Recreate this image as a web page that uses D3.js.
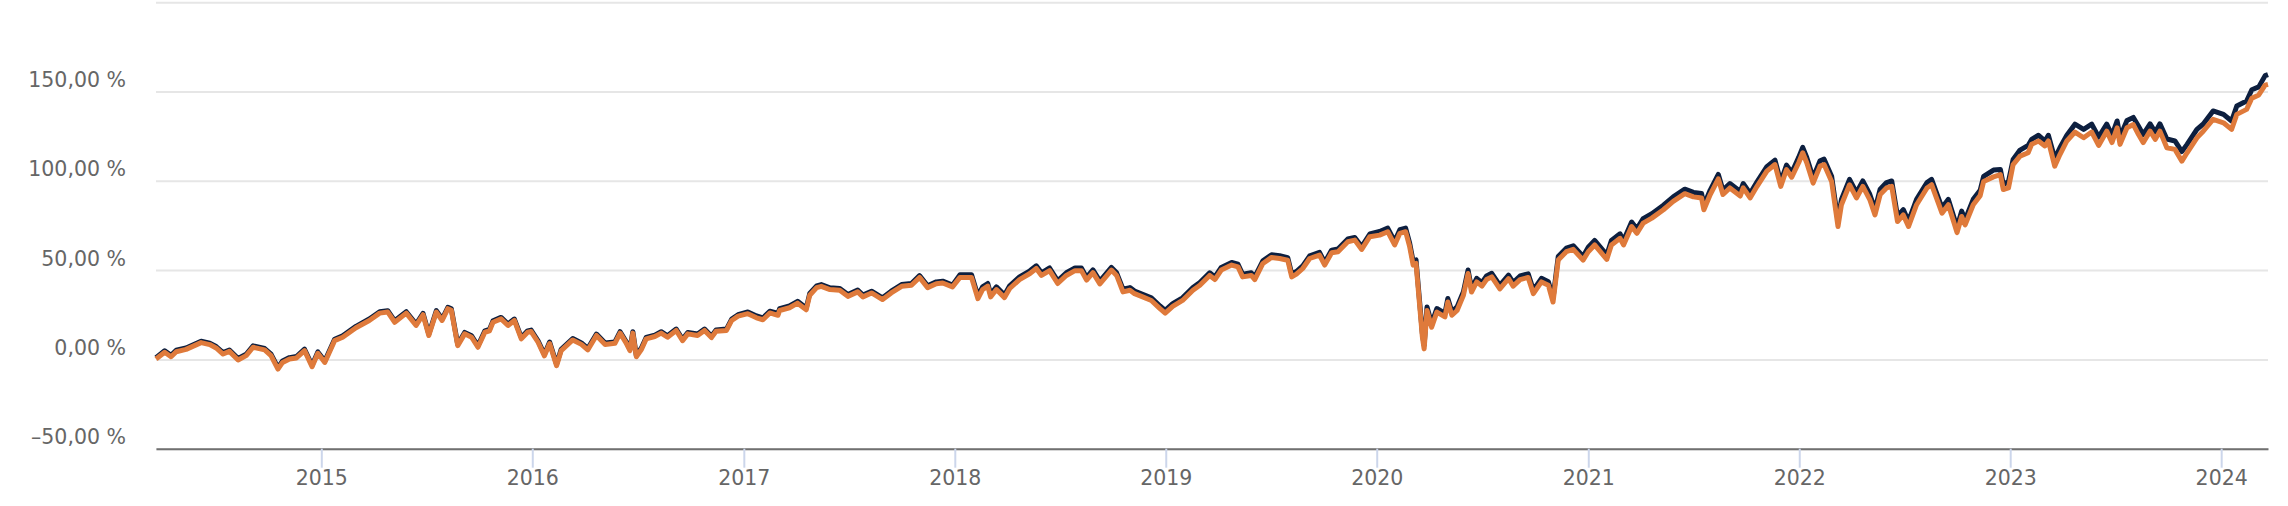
<!DOCTYPE html>
<html>
<head>
<meta charset="utf-8">
<script src="https://cdn.jsdelivr.net/npm/d3@7"></script>
<style>
body { margin: 0; background: #fff; }
svg { display: block; }
</style>
</head>
<body>
<script>
// dates (roughly every 2 weeks, more around the swings)
var dates = [
  "2014-03-21","2014-04-05","2014-04-16","2014-04-25","2014-05-12","2014-06-07","2014-06-22","2014-07-03","2014-07-15","2014-07-26","2014-08-10","2014-08-24","2014-09-05","2014-09-25","2014-10-06","2014-10-18","2014-10-26","2014-11-07","2014-11-19","2014-12-03","2014-12-16","2014-12-26",
  "2015-01-07","2015-01-24","2015-02-07","2015-03-02","2015-03-25","2015-04-12","2015-04-26","2015-05-08","2015-05-28","2015-06-14","2015-06-26","2015-07-06","2015-07-19","2015-07-29","2015-08-08","2015-08-14","2015-08-25","2015-09-06","2015-09-18","2015-09-29","2015-10-11","2015-10-19","2015-10-25","2015-11-08","2015-11-20","2015-12-01","2015-12-13","2015-12-24",
  "2015-12-30","2016-01-11","2016-01-22","2016-01-31","2016-02-12","2016-02-20","2016-03-11","2016-03-26","2016-04-06","2016-04-21","2016-05-06","2016-05-23","2016-06-01","2016-06-11","2016-06-18","2016-06-23","2016-06-29","2016-07-08","2016-07-16","2016-07-31","2016-08-11","2016-08-22","2016-09-06","2016-09-17","2016-09-26","2016-10-13","2016-10-25","2016-11-06","2016-11-14","2016-12-02","2016-12-11","2016-12-22",
  "2017-01-08","2017-01-23","2017-02-03","2017-02-15","2017-03-01","2017-03-04","2017-03-21","2017-04-04","2017-04-19","2017-04-25","2017-05-07","2017-05-15","2017-05-30","2017-06-16","2017-06-30","2017-07-17","2017-07-26","2017-08-10","2017-08-29","2017-09-13","2017-10-01","2017-10-18","2017-11-01","2017-11-15","2017-11-30","2017-12-11","2017-12-28",
  "2018-01-10","2018-01-30","2018-02-10","2018-02-18","2018-02-27","2018-03-04","2018-03-14","2018-03-28","2018-04-06","2018-04-23","2018-05-11","2018-05-22","2018-05-31","2018-06-14","2018-06-28","2018-07-13","2018-07-28","2018-08-08","2018-08-17","2018-08-28","2018-09-09","2018-09-29","2018-10-08","2018-10-19","2018-10-31","2018-11-08","2018-11-22","2018-12-07","2018-12-22","2018-12-31",
  "2019-01-13","2019-01-30","2019-02-17","2019-03-01","2019-03-18","2019-03-27","2019-04-07","2019-04-25","2019-05-06","2019-05-14","2019-05-29","2019-06-04","2019-06-18","2019-07-03","2019-07-17","2019-07-31","2019-08-07","2019-08-15","2019-08-26","2019-09-07","2019-09-24","2019-10-03","2019-10-15","2019-10-26","2019-11-12","2019-11-24","2019-12-06","2019-12-20",
  "2020-01-06","2020-01-20","2020-02-01","2020-02-10","2020-02-20","2020-02-27","2020-03-04","2020-03-09","2020-03-16","2020-03-20","2020-03-23","2020-03-28","2020-04-05","2020-04-14","2020-04-28","2020-05-03","2020-05-10","2020-05-19","2020-05-30","2020-06-07","2020-06-13","2020-06-22","2020-07-01","2020-07-09","2020-07-18","2020-08-01","2020-08-16","2020-08-24","2020-09-05","2020-09-19","2020-09-28","2020-10-12","2020-10-24","2020-11-01","2020-11-10","2020-11-24","2020-12-06","2020-12-23",
  "2021-01-01","2021-01-12","2021-02-02","2021-02-10","2021-02-25","2021-03-03","2021-03-17","2021-03-26","2021-04-06","2021-04-21","2021-05-11","2021-05-28","2021-06-17","2021-07-02","2021-07-16","2021-07-20","2021-07-31","2021-08-14","2021-08-22","2021-09-03","2021-09-21","2021-09-26","2021-10-08","2021-10-20","2021-11-06","2021-11-20","2021-11-30","2021-12-10","2021-12-19",
  "2021-12-31","2022-01-07","2022-01-14","2022-01-25","2022-02-06","2022-02-13","2022-02-26","2022-03-09","2022-03-15","2022-03-29","2022-04-10","2022-04-21","2022-05-03","2022-05-12","2022-05-21","2022-06-01","2022-06-10","2022-06-20","2022-06-30","2022-07-09","2022-07-23","2022-08-10","2022-08-18","2022-09-05","2022-09-16","2022-10-01","2022-10-09","2022-10-15","2022-10-29","2022-11-10",
  "2022-11-16","2022-12-03","2022-12-15","2022-12-20","2022-12-29","2023-01-06","2023-01-18","2023-02-01","2023-02-07","2023-02-19","2023-03-02","2023-03-08","2023-03-19","2023-03-28","2023-04-09","2023-04-23","2023-05-08","2023-05-22","2023-06-03","2023-06-17","2023-06-26","2023-07-05","2023-07-10","2023-07-22","2023-08-02","2023-08-11","2023-08-19","2023-08-31","2023-09-09","2023-09-17","2023-09-29","2023-10-13","2023-10-25","2023-11-03","2023-11-20","2023-12-01","2023-12-18","2024-01-05","2024-01-19","2024-01-28","2024-02-14","2024-02-23","2024-03-06","2024-03-17","2024-03-22"
];

// dark navy line (sits a little above the orange one)
var fundValues = [
  1, 4.8, 2.3, 5.1, 6.4, 10.2, 9.1, 7.2, 3.8, 5.3, 0.5, 2.9, 7.6, 6.1, 2.9, -4.6, -0.9, 1, 1.6, 5.7, -3.3, 4.2,
  -0.9, 11.3, 13.2, 18.5, 22.6, 26.7, 27.3, 21.6, 26.7, 19.8, 25.8, 14.2, 27.3, 22.6, 29.2, 28.3, 8.5, 15.1, 13.2, 7.6, 16, 16.8, 21.6, 23.5, 19.8, 22.6, 12.3, 16,
  16.4, 10.4, 2.8, 9.7, -2.7, 5.7, 11.7, 9.2, 6.1, 14.2, 9.2, 9.8, 15.5, 10.2, 5.7, 15.5, 2.3, 6.5, 12.3, 13.6, 15.5, 13.2, 17, 11.3, 15.1, 14.2, 17, 13, 16.5, 17, 22.6, 25,
  26.6, 24.3, 23.2, 27, 25.7, 28.4, 29.9, 32.5, 28.8, 36.9, 41.2, 41.9, 40.1, 39.7, 36.3, 38.8, 36, 38.2, 34.5, 38.2, 41.9, 42.5, 46.9, 41.2, 43.4, 43.8, 41.6,
  47.4, 47.4, 35.5, 40.6, 42.5, 36.5, 40.6, 36.1, 41.2, 46.2, 49.6, 52.4, 48.5, 51.2, 44, 48.5, 51.2, 51.2, 45.9, 50.1, 43.8, 51.5, 48.5, 39.3, 40.2, 38.3, 36.5, 34.5, 29.9, 27.4,
  31.2, 34.5, 40.2, 43, 48.5, 46.2, 51.5, 54.3, 53.3, 47.7, 48.5, 46.2, 55.2, 58.6, 58, 57, 47.7, 49.2, 52.4, 58, 59.9, 54.3, 61.2, 61.8, 67.4, 68.3, 63.1, 70.2,
  71.6, 73.5, 66.1, 72.6, 73.5, 65.1, 54.8, 55.7, 29.4, 14.4, 7.9, 29.4, 20, 28.5, 25.8, 34.1, 26.7, 29.4, 37.9, 50.1, 39.7, 45.4, 43, 46.7, 48.2, 41.5, 47.2, 43, 46.7, 47.9, 38.8, 45.4, 43.5, 34.1, 57.6, 62.3, 63.6, 57.6,
  62.8, 66.6, 58.5, 66.6, 70.3, 66.6, 76.9, 73.1, 78.8, 81.6, 86.3, 91, 95.3, 93.5, 92.9, 86.3, 94.8, 103.6, 94.8, 98.5, 94, 98.5, 92.9, 99.4, 107.9, 111.6, 99.4, 108.8, 104.5,
  113.1, 118.7, 113.1, 101.7, 111.2, 112.1, 102.6, 77.4, 89.6, 100.8, 93.4, 99.9, 92.5, 83.9, 95.3, 99, 99.9, 80.2, 83.9, 77.4, 89.6, 99, 100.8, 84.9, 89.6, 74, 83, 78.3, 89.6, 94.7,
  102.5, 106, 106.3, 97.9, 99.6, 111.9, 117.2, 119.8, 123.2, 125.5, 122.3, 125.5, 112.5, 118.5, 125.5, 131.7, 128.8, 131.7, 124.5, 131.7, 125.5, 133.5, 124.6, 133.8, 135.5, 130.5, 125.9, 131.9, 127.2, 131.9, 123.4, 122.3, 116.4, 120.4, 128.8, 131.8, 139.1, 137.2, 133.5, 141.9, 144.7, 151, 152.6, 158.9, 159.5
];

// orange line
var benchmarkValues = [
  0.2, 4, 1.5, 4.3, 5.6, 9.4, 8.3, 6.4, 3.0, 4.5, -0.3, 2.1, 6.8, 5.3, 2.1, -5.4, -1.7, 0.2, 0.8, 4.9, -4.1, 3.4,
  -1.7, 10.5, 12.4, 17.7, 21.8, 25.9, 26.5, 20.8, 25.9, 19, 25, 13.4, 26.5, 21.8, 28.4, 27.5, 7.7, 14.3, 12.4, 6.8, 15.2, 16, 20.8, 22.7, 19, 21.8, 11.5, 15.2,
  15.6, 9.6, 2, 8.9, -3.5, 4.9, 10.9, 8.4, 5.3, 13.4, 8.4, 9, 14.7, 9.4, 4.9, 14.7, 1.5, 5.7, 11.5, 12.8, 14.7, 12.4, 16.2, 10.5, 14.3, 13.4, 16.2, 12.2, 15.7, 16.2, 21.8, 24.2,
  25.6, 23.3, 22.2, 26, 24.7, 27.4, 28.9, 31.5, 27.8, 35.9, 40.2, 40.9, 39.1, 38.7, 35.3, 37.8, 35, 37.2, 33.5, 37.2, 40.9, 41.5, 45.9, 40.2, 42.4, 42.8, 40.6,
  45.9, 45.9, 34, 39.1, 41, 35, 39.1, 34.6, 39.7, 44.7, 48.1, 50.9, 47, 49.7, 42.5, 47, 49.7, 49.7, 44.4, 48.6, 42.3, 50, 47, 37.8, 38.7, 36.8, 35, 33, 28.4, 25.9,
  29.7, 33, 38.7, 41.5, 47, 44.7, 50, 52.8, 51.8, 46.2, 47, 44.7, 53.7, 57.1, 56.5, 55.5, 46.2, 47.7, 50.9, 56.5, 58.4, 52.8, 59.7, 60.3, 65.9, 66.8, 61.6, 68.7,
  69.6, 71.5, 64.1, 70.6, 71.5, 63.1, 52.8, 53.7, 27.4, 12.4, 5.9, 27.4, 18, 26.5, 23.8, 32.1, 24.7, 27.4, 35.9, 48.1, 37.7, 43.4, 41, 44.7, 46.2, 39.5, 45.2, 41, 44.7, 45.9, 36.8, 43.4, 41.5, 32.1, 55.6, 60.3, 61.6, 55.6,
  60.3, 64.1, 56, 64.1, 67.8, 64.1, 74.4, 70.6, 76.3, 79.1, 83.8, 88.5, 92.8, 91, 90.4, 83.8, 92.3, 101.1, 92.3, 96, 91.5, 96, 90.4, 96.9, 105.4, 109.1, 96.9, 106.3, 102,
  110.1, 115.7, 110.1, 98.7, 108.2, 109.1, 99.6, 74.4, 86.6, 97.8, 90.4, 96.9, 89.5, 80.9, 92.3, 96, 96.9, 77.2, 80.9, 74.4, 86.6, 96, 97.8, 81.9, 86.6, 71, 80, 75.3, 86.6, 91.7,
  99.6, 102.2, 103.5, 95.1, 96, 109.1, 113.8, 115.7, 120.4, 122.3, 119.5, 122.3, 108.2, 114.7, 122.3, 127.3, 124.1, 127.3, 119.8, 127.8, 121.4, 129.7, 120.4, 129.7, 131.5, 125.9, 121.4, 127.8, 123.2, 127.8, 118.5, 117.6, 111, 115.7, 124.1, 127.8, 134.4, 132.5, 128.8, 137.2, 140, 146.2, 148.1, 153.6, 154
];

var yTicks = [-50, 0, 50, 100, 150, 200];
var yTickLabels = ["–50,00 %", "0,00 %", "50,00 %", "100,00 %", "150,00 %", ""];
var xTickYears = ["2015", "2016", "2017", "2018", "2019", "2020", "2021", "2022", "2023", "2024"];

var width = 2288, height = 506;
var left = 156, right = 2268;
var font = "'DejaVu Sans', sans-serif";

var parse = d3.timeParse("%Y-%m-%d");
var dateObjs = dates.map(parse);

var x = d3.scaleTime()
  .domain(d3.extent(dateObjs))
  .range([left, right]);

var y = d3.scaleLinear()
  .domain([-50, 200])
  .range([448.7, 2.2]);

var svg = d3.select("body").append("svg")
  .attr("width", width)
  .attr("height", height);

// grid + y labels
var yAxis = svg.append("g")
  .attr("transform", "translate(" + left + ",0)")
  .call(d3.axisLeft(y)
    .tickValues(yTicks)
    .tickSize(-(right - left))
    .tickPadding(30)
    .tickFormat(function(d, i) { return yTickLabels[i]; }));
yAxis.select(".domain").remove();
yAxis.selectAll(".tick line")
  .attr("stroke", "#e6e6e6")
  .attr("stroke-width", 2);
yAxis.selectAll(".tick text")
  .attr("dy", -5)
  .attr("fill", "#666666")
  .style("font-family", font)
  .style("font-size", "20.5px");

// series
var line = d3.line()
  .x(function(d) { return x(d.date); })
  .y(function(d) { return y(d.value); });

function series(values) {
  return values.map(function(v, i) { return { date: dateObjs[i], value: v }; });
}

svg.append("path")
  .datum(series(fundValues))
  .attr("d", line)
  .attr("fill", "none")
  .attr("stroke", "#0d1f3f")
  .attr("stroke-width", 5)
  .attr("stroke-linejoin", "round");

svg.append("path")
  .datum(series(benchmarkValues))
  .attr("d", line)
  .attr("fill", "none")
  .attr("stroke", "#df7a3b")
  .attr("stroke-width", 5)
  .attr("stroke-linejoin", "round");

// x axis
var xAxis = svg.append("g")
  .attr("transform", "translate(0," + y(-50) + ")")
  .call(d3.axisBottom(x)
    .tickValues(xTickYears.map(function(yr) { return parse(yr + "-01-01"); }))
    .tickSize(19)
    .tickSizeOuter(0)
    .tickPadding(3)
    .tickFormat(d3.timeFormat("%Y")));
xAxis.select(".domain")
  .attr("stroke", "#707070")
  .attr("stroke-width", 2);
xAxis.selectAll(".tick line")
  .attr("stroke", "#ccd6eb")
  .attr("stroke-width", 2);
xAxis.selectAll(".tick text")
  .attr("fill", "#666666")
  .style("font-family", font)
  .style("font-size", "20.5px");
</script>
</body>
</html>
